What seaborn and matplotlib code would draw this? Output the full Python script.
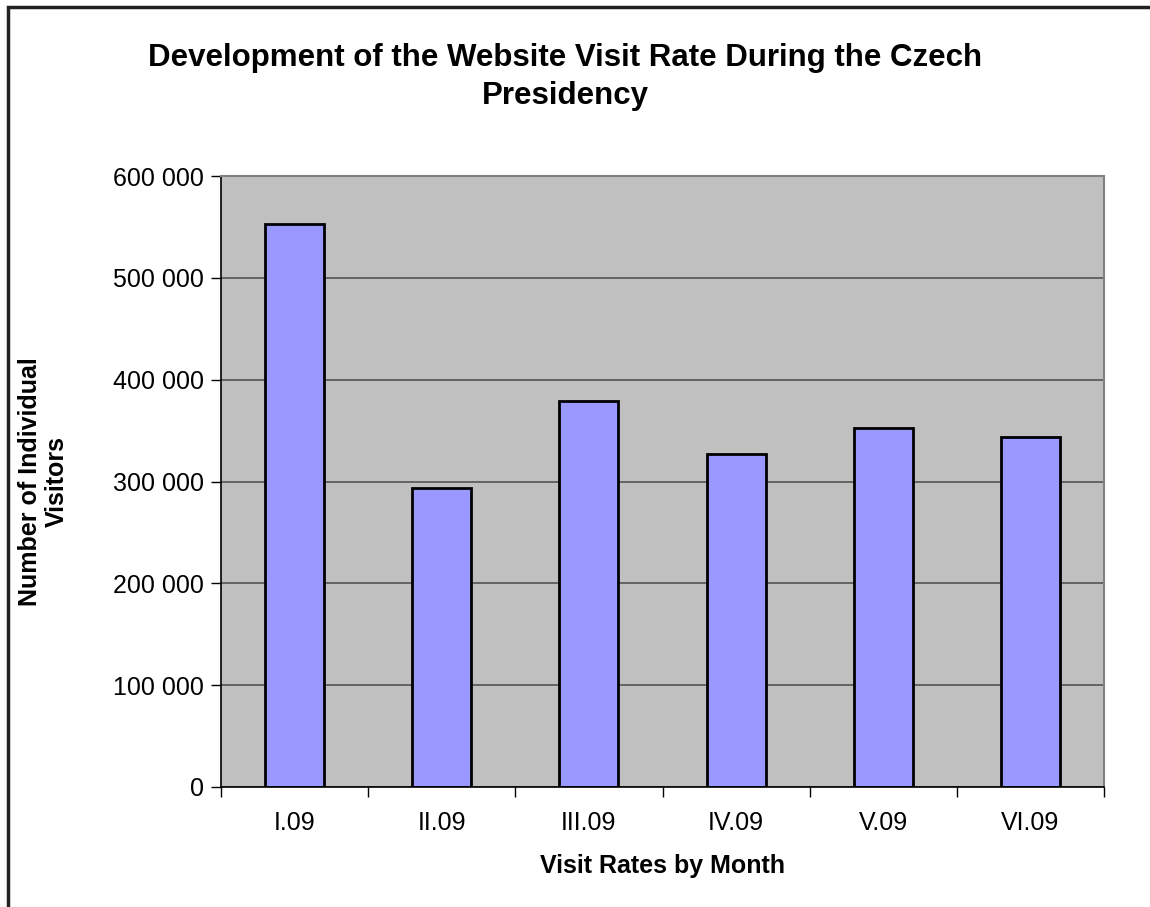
import matplotlib
matplotlib.use("Agg")
import matplotlib.pyplot as plt
from matplotlib.patches import Rectangle
from matplotlib.ticker import FuncFormatter, FixedLocator
import pandas as pd
import seaborn as sns

# values
months = ["I.09", "II.09", "III.09", "IV.09", "V.09", "VI.09"]
visitors = [553000, 294000, 379500, 327000, 353000, 343500]

df = pd.DataFrame({"month": months, "visitors": visitors})

sns.set_theme(style="white")
plt.rcParams["font.family"] = ["Liberation Sans", "DejaVu Sans"]
plt.rcParams["text.color"] = "black"
plt.rcParams["axes.labelcolor"] = "black"
plt.rcParams["xtick.color"] = "black"
plt.rcParams["ytick.color"] = "black"

fig = plt.figure(figsize=(11.5, 9.07), dpi=100)
ax = fig.add_axes([221 / 1150, 1 - 787 / 907, (1104 - 221) / 1150, (787 - 176) / 907])
ax.set_facecolor("#C0C0C0")

sns.barplot(data=df, x="month", y="visitors", color="#9999FF", width=0.4,
            saturation=1, edgecolor="black", linewidth=2, ax=ax, zorder=3)

ax.set_xlim(-0.5, len(months) - 0.5)
ax.set_ylim(0, 600000)
ax.set_yticks(range(0, 600001, 100000))
ax.yaxis.set_major_formatter(FuncFormatter(lambda v, _: f"{int(v):,}".replace(",", " ")))
ax.grid(axis="y", color="#555555", linewidth=1.2, zorder=1)
ax.set_axisbelow(True)

# ticks between categories, labels centred under bars
ax.xaxis.set_major_locator(FixedLocator([i - 0.5 for i in range(len(months) + 1)]))
ax.xaxis.set_major_formatter(FuncFormatter(lambda v, _: ""))
ax.xaxis.set_minor_locator(FixedLocator(list(range(len(months)))))
ax.set_xticklabels(months, minor=True)
ax.tick_params(axis="x", which="major", direction="out", length=7, width=1, bottom=True)
ax.tick_params(axis="x", which="minor", length=0, pad=17, labelsize=18)
ax.tick_params(axis="y", direction="out", length=7, width=1, left=True,
               labelsize=18, pad=5)

for side in ["top", "right"]:
    ax.spines[side].set_color("#808080")
    ax.spines[side].set_linewidth(1.5)
for side in ["left", "bottom"]:
    ax.spines[side].set_color("black")
    ax.spines[side].set_linewidth(1.2)
ax.spines["bottom"].set_zorder(5)

ax.set_xlabel("Visit Rates by Month", fontsize=18, fontweight="bold", labelpad=14)
ax.set_ylabel("Number of Individual\nVisitors", fontsize=18, fontweight="bold", labelpad=32,
              linespacing=1.15)

fig.suptitle("Development of the Website Visit Rate During the Czech\nPresidency",
             fontsize=22.5, fontweight="bold", x=565 / 1150, y=1 - 43 / 907, va="top",
             linespacing=1.36)

# outer chart frame (only top and left edges visible in the reference)
fig.patches.append(Rectangle((8 / 1150, -0.05), 1.1, 1 - 7 / 907 + 0.05,
                             transform=fig.transFigure, fill=False,
                             edgecolor="#222222", linewidth=2.5))

fig.savefig("out.png", dpi=100)
